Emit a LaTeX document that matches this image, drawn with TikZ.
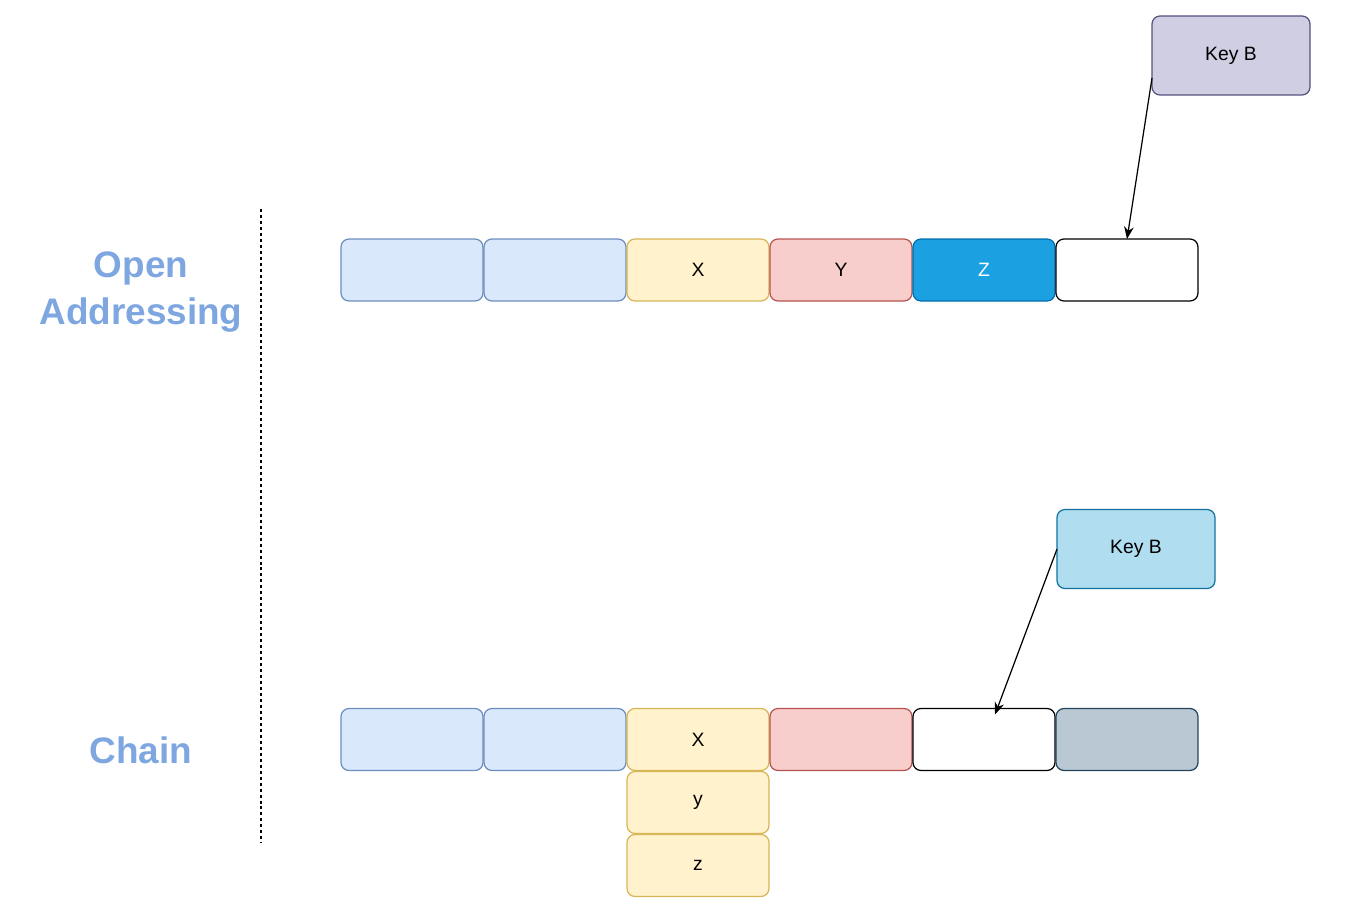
\documentclass[tikz,border=0pt]{standalone}
\usepackage{fontspec}
\setmainfont{Liberation Sans}
\usepackage{tikz}
\usetikzlibrary{arrows.meta, positioning, calc}

\definecolor{bluefill}{HTML}{DAE8FC}
\definecolor{bluedraw}{HTML}{6C8EBF}
\definecolor{yellowfill}{HTML}{FFF2CC}
\definecolor{yellowdraw}{HTML}{D6B656}
\definecolor{redfill}{HTML}{F8CECC}
\definecolor{reddraw}{HTML}{B85450}
\definecolor{deepfill}{HTML}{1BA1E2}
\definecolor{deepdraw}{HTML}{006EAF}
\definecolor{purplefill}{HTML}{D0CEE2}
\definecolor{purpledraw}{HTML}{56517E}
\definecolor{skyfill}{HTML}{B1DDF0}
\definecolor{skydraw}{HTML}{10739E}
\definecolor{grayfill}{HTML}{BAC8D3}
\definecolor{graydraw}{HTML}{23445D}
\definecolor{titlecol}{HTML}{7EA6E0}

\begin{document}
\begin{tikzpicture}[
  node distance=0.02cm,
  cell/.style={rectangle, draw, rounded corners=0.16cm, line width=0.7pt, outer sep=0pt, minimum width=2.84cm, minimum height=1.24cm, font=\fontsize{11}{13}\selectfont, inner sep=0pt},
  bluecell/.style={cell, fill=bluefill, draw=bluedraw},
  yellowcell/.style={cell, fill=yellowfill, draw=yellowdraw},
  redcell/.style={cell, fill=redfill, draw=reddraw},
  emptycell/.style={cell, fill=white, draw=black},
  keybox/.style={cell, minimum width=3.16cm, minimum height=1.58cm},
  title/.style={font=\fontsize{21}{27}\selectfont\bfseries, text=titlecol, align=center},
  arrow/.style={-{Stealth[length=7pt, width=5.5pt]}, line width=0.7pt}
]
  \useasboundingbox (0,0) rectangle (27,-18.16);

  % open addressing
  \node[bluecell] (oa1) at (8.24,-5.40) {};
  \node[bluecell, right=of oa1] (oa2) {};
  \node[yellowcell, right=of oa2] (oa3) {X};
  \node[redcell, right=of oa3] (oa4) {Y};
  \node[cell, fill=deepfill, draw=deepdraw, text=white, right=of oa4] (oa5) {Z};
  \node[emptycell, right=of oa5] (oa6) {};
  \node[keybox, fill=purplefill, draw=purpledraw] (keyOA) at (24.62,-1.11) {Key B};
  \draw[arrow] ($(keyOA.west)!0.57!(keyOA.south west)$) -- (oa6.north);

  % chain
  \node[bluecell] (ch1) at (8.24,-14.79) {};
  \node[bluecell, right=of ch1] (ch2) {};
  \node[yellowcell, right=of ch2] (ch3) {X};
  \node[redcell, right=of ch3] (ch4) {};
  \node[emptycell, right=of ch4] (ch5) {};
  \node[cell, fill=grayfill, draw=graydraw, right=of ch5] (ch6) {};
  \node[yellowcell, below=of ch3] (chy) {y};
  \node[yellowcell, below=of chy] (chz) {z};
  \node[keybox, fill=skyfill, draw=skydraw] (keyCH) at (22.72,-10.98) {Key B};
  \draw[arrow] (keyCH.west) -- ($(ch5.north)+(0.22,-0.12)$);

  % labels
  \node[title] (oaTitle) at (2.82,-5.84) {Open\\Addressing};
  \node[title] (chTitle) at (2.82,-15.0) {Chain};
  \draw[line width=0.7pt, dash pattern=on 1.7pt off 1.7pt] (5.22,-4.18) -- (5.22,-16.86);
\end{tikzpicture}
\end{document}
